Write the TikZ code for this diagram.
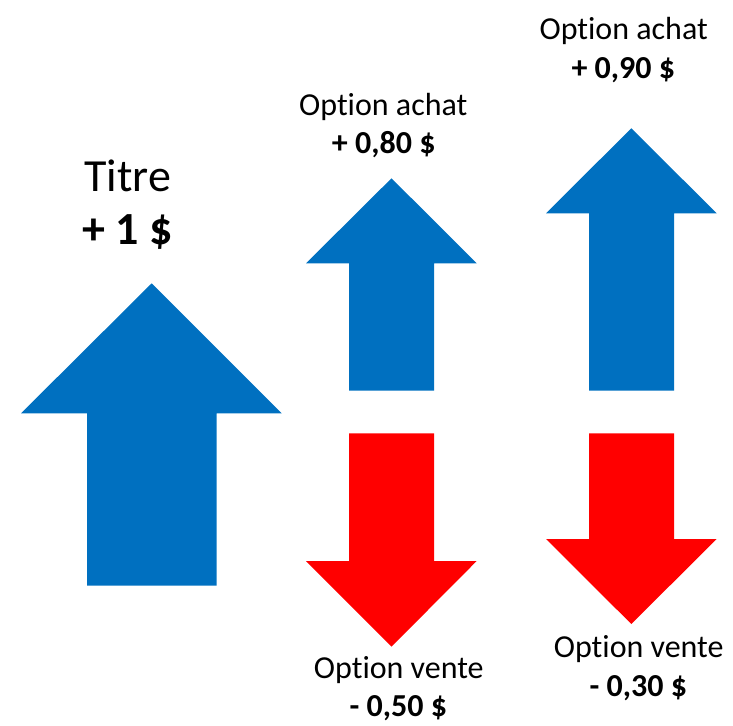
\documentclass[tikz,border=0pt]{standalone}
\usepackage{fontspec}
\setmainfont{Carlito}[Ligatures=NoCommon]
\usepackage{tikz}
\definecolor{achatblue}{HTML}{0070C0}
\definecolor{ventered}{HTML}{FF0000}

\begin{document}
\begin{tikzpicture}[x=1pt,y=-1pt,
        txt/.style={anchor=base, inner sep=0pt, font=\fontsize{32}{38}\selectfont},
        price/.style={txt, font=\fontsize{32}{38}\selectfont\bfseries},
        buyarrow/.style={fill=achatblue},
        sellarrow/.style={fill=ventered}]
            \useasboundingbox (0,0) rectangle (733,725);
            % titre
            \fill[buyarrow] (87,585.7) -- (87,413.3) -- (21,413.3) -- (151.7,283.3) -- (281.7,413.3) -- (216.7,413.3) -- (216.7,585.7) -- cycle;
            \node[txt, font=\fontsize{46}{52}\selectfont] (titre) at (127.8,191.7) {Titre};
            \node[price, font=\fontsize{46}{52}\selectfont\bfseries] (titreprix) at (127.5,244.3) {+ 1 \$};
            % options achat
            \fill[buyarrow] (349,390.7) -- (349,263.3) -- (306,263.3) -- (391.5,178.3) -- (476.7,263.3) -- (434,263.3) -- (434,390.7) -- cycle;
            \fill[buyarrow] (589,390.7) -- (589,213.3) -- (546,213.3) -- (631.3,128.3) -- (716.7,213.3) -- (674,213.3) -- (674,390.7) -- cycle;
            \node[txt] (achatA) at (383.3,115) {Option achat};
            \node[price] (achatAprix) at (383.7,153.3) {+ 0,80 \$};
            \node[txt] (achatB) at (623.7,39.3) {Option achat};
            \node[price] (achatBprix) at (623.3,78.3) {+ 0,90 \$};
            % options vente
            \fill[sellarrow] (349,433.3) -- (349,561) -- (306,561) -- (391.5,646.7) -- (476.7,561) -- (434,561) -- (434,433.3) -- cycle;
            \fill[sellarrow] (589,433.3) -- (589,539) -- (546,539) -- (631.3,624) -- (716.7,539) -- (674,539) -- (674,433.3) -- cycle;
            \node[txt] (venteA) at (398.8,678.3) {Option vente};
            \node[price] (venteAprix) at (398.3,716.7) {- 0,50 \$};
            \node[txt] (venteB) at (638.7,657.3) {Option vente};
            \node[price] (venteBprix) at (638.3,696.7) {- 0,30 \$};
\end{tikzpicture}
\end{document}
